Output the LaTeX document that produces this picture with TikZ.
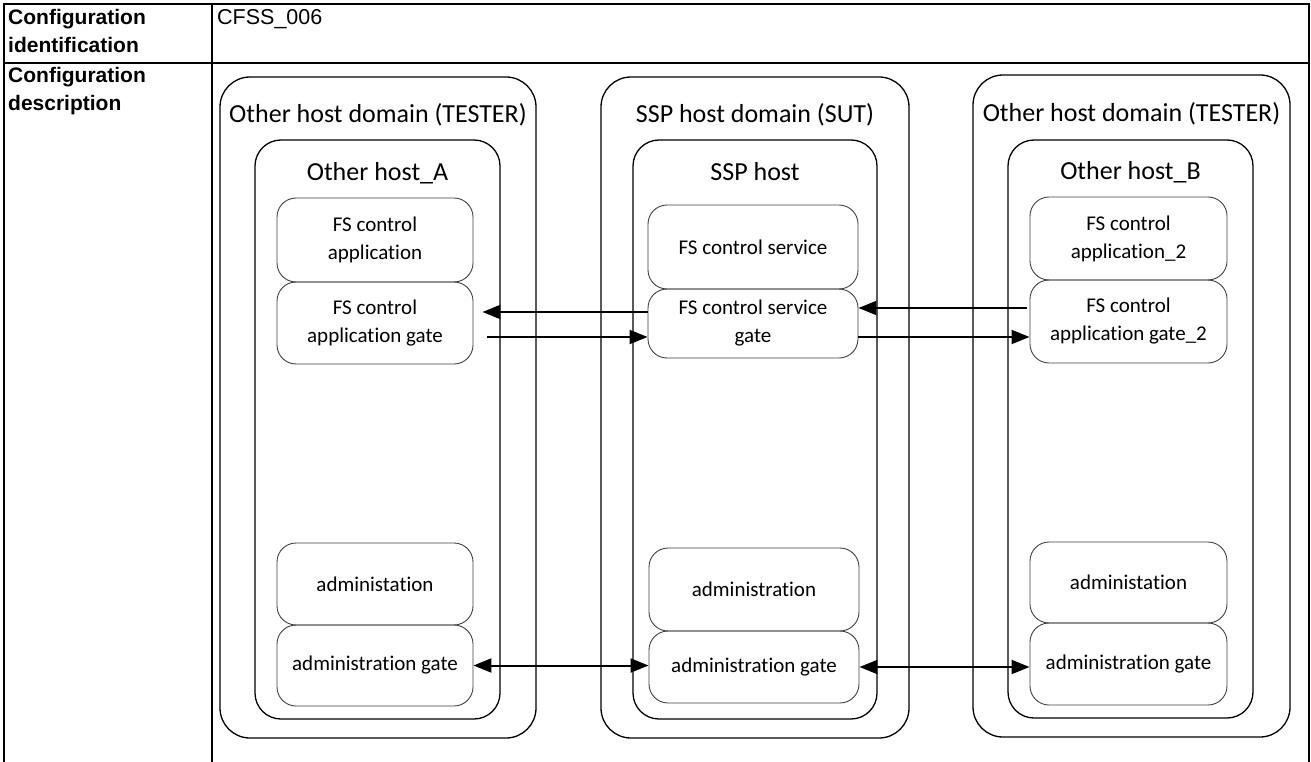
\documentclass[tikz,border=0pt]{standalone}
\usepackage{fontspec}
\setmainfont{Liberation Sans}
\newfontfamily\diafont[Ligatures={NoCommon}]{Carlito}
\usetikzlibrary{arrows.meta}

\begin{document}
\begin{tikzpicture}[x=1pt,y=-1pt,
	tablerule/.style={line width=1.5pt},
	headtext/.style={anchor=north west,inner sep=0pt,align=left,font=\bfseries\fontsize{21}{28.5}\selectfont},
	domainbox/.style={draw,line width=1.3pt,rounded corners=30pt},
	hostbox/.style={draw,line width=1.3pt,rounded corners=26pt},
	partbox/.style={draw=black!75,line width=0.9pt,rounded corners=19pt,align=center,
		font=\diafont\fontsize{21}{28}\selectfont},
	titletext/.style={font=\diafont\fontsize{26}{30}\selectfont},
	flowarrow/.style={line width=2pt,-{Triangle[length=18pt,width=14pt]}},
	twoway/.style={line width=2pt,{Triangle[length=18pt,width=14pt]}-{Triangle[length=18pt,width=14pt]}}]
	\useasboundingbox (0,0) rectangle (1311,762);
	\draw[tablerule] (4,762) -- (4,4) -- (1309,4) -- (1309,762);
	\draw[tablerule] (4,63) -- (1309,63);
	\draw[tablerule] (212,4) -- (212,762);
	\node[headtext] (ident) at (8,9) {Configuration\\identification};
	\node[headtext] (descr) at (8,67) {Configuration\\description};
	\node[anchor=north west,inner sep=0pt,font=\fontsize{21.5}{24}\selectfont] (cfid) at (217,9) {CFSS\_006};

	\node[domainbox,minimum width=316,minimum height=661] (domA) at (378,407.5) {};
	\node[hostbox,minimum width=245,minimum height=579] (hostA) at (377.5,429.5) {};
	\node[titletext] (domAt) at (378,115) {Other host domain (TESTER)};
	\node[titletext] (hostAt) at (377.5,173) {Other host\_A};
	\node[partbox,minimum width=196,minimum height=84] (appA) at (375,240) {FS control\\application};
	\node[partbox,minimum width=196,minimum height=82] (appgateA) at (375,323) {FS control\\application gate};
	\node[partbox,minimum width=196,minimum height=82] (admA) at (375,584) {administation};
	\node[partbox,minimum width=196,minimum height=81] (admgateA) at (375,665.5) {administration gate};

	\node[domainbox,minimum width=308,minimum height=661] (domS) at (755,407.5) {};
	\node[hostbox,minimum width=244,minimum height=579] (hostS) at (755,429.5) {};
	\node[titletext] (domSt) at (755,115) {SSP host domain (SUT)};
	\node[titletext] (hostSt) at (755,172) {SSP host};
	\node[partbox,minimum width=210,minimum height=84] (svc) at (753,247) {FS control service};
	\node[partbox,minimum width=210,minimum height=69] (svcgate) at (753,323.5) {FS control service\\gate};
	\node[partbox,minimum width=210,minimum height=83] (admS) at (754,589.5) {administration};
	\node[partbox,minimum width=210,minimum height=72] (admgateS) at (754,667) {administration gate};

	\node[domainbox,minimum width=317,minimum height=662] (domB) at (1131.5,406) {};
	\node[hostbox,minimum width=245,minimum height=578] (hostB) at (1130.5,429) {};
	\node[titletext] (domBt) at (1131.5,114) {Other host domain (TESTER)};
	\node[titletext] (hostBt) at (1130.5,172) {Other host\_B};
	\node[partbox,minimum width=197,minimum height=83] (appB) at (1128.5,238.5) {FS control\\application\_2};
	\node[partbox,minimum width=197,minimum height=83] (appgateB) at (1128.5,321.5) {FS control\\application gate\_2};
	\node[partbox,minimum width=197,minimum height=81] (admB) at (1128.5,582.5) {administation};
	\node[partbox,minimum width=197,minimum height=82] (admgateB) at (1128.5,664) {administration gate};

	\draw[flowarrow,shorten >=9pt] ([yshift=11.5pt]svcgate.west) -- ([yshift=11.5pt]svcgate.west -| appgateA.east);
	\draw[flowarrow,shorten <=14pt] ([yshift=-13.5pt]svcgate.west -| appgateA.east) -- ([yshift=-13.5pt]svcgate.west);
	\draw[flowarrow,shorten <=3pt] ([yshift=15.5pt]svcgate.east -| appgateB.west) -- ([yshift=15.5pt]svcgate.east);
	\draw[flowarrow] ([yshift=-13.5pt]svcgate.east) -- ([yshift=-13.5pt]svcgate.east -| appgateB.west);
	\draw[twoway] (admgateA.east) -- (admgateA.east -| admgateS.west);
	\draw[twoway] (admgateS.east) -- (admgateS.east -| admgateB.west);
\end{tikzpicture}
\end{document}
